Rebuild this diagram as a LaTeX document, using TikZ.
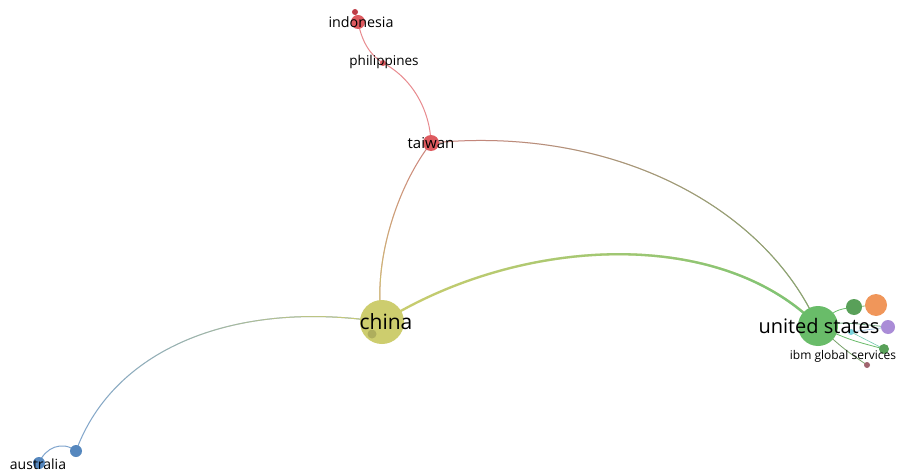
\documentclass[tikz,border=0pt]{standalone}
\usepackage{fontspec}
\setmainfont{Open Sans}
\usetikzlibrary{fadings,backgrounds}
\definecolor{cred}{RGB}{222,90,95}
\definecolor{cdred}{RGB}{190,60,70}
\definecolor{cyel}{RGB}{205,205,110}
\definecolor{cgreen}{RGB}{105,188,105}
\definecolor{corange}{RGB}{240,150,90}
\definecolor{cpurple}{RGB}{170,140,215}
\definecolor{cblue}{RGB}{85,135,190}
\definecolor{ccyan}{RGB}{120,210,220}
\definecolor{cbrown}{RGB}{160,100,110}
\definecolor{cedgered}{RGB}{205,130,125}
\definecolor{cedgegreen}{RGB}{125,175,115}
\tikzfading[name=fadeR, left color=transparent!100, right color=transparent!0]
\tikzfading[name=fadeS, top color=transparent!100, bottom color=transparent!0]
\tikzset{
  item/.style={circle, inner sep=0pt, draw=none},
  lbl/.style={inner sep=0pt, text=black},
  edge/.style={line width=1pt, line cap=round},
}
\begin{document}
\begin{tikzpicture}[x=1pt,y=-1pt]
\useasboundingbox (0,0) rectangle (899,476);
% nodes
\node[item, fill=cdred, minimum size=6pt] (indo2) at (355,12) {};
\node[item, fill=cred, minimum size=14pt] (indo) at (358,22) {};
\node[item, fill=cred, minimum size=6pt] (phil) at (383,63) {};
\node[item, fill=cred, minimum size=16pt] (taiwan) at (431,143) {};
\node[item, fill=cyel, minimum size=44pt] (china) at (382,322) {};
\node[item, fill=cyel!85!black, minimum size=9pt] (china2) at (372,334) {};
\node[item, fill=cgreen, minimum size=40pt] (us) at (818,326) {};
\node[item, fill=cgreen!85!black, minimum size=16pt] (g1) at (854,307) {};
\node[item, fill=corange, minimum size=22pt] (orange) at (876,305) {};
\node[item, fill=cpurple, minimum size=14pt] (purple) at (888,327) {};
\node[item, fill=ccyan, minimum size=6pt] (cyan) at (851,332) {};
\node[item, fill=cgreen!85!black, minimum size=10pt] (g2) at (884,349) {};
\node[item, fill=cbrown, minimum size=6pt] (brown) at (867,365) {};
\node[item, fill=cblue, minimum size=12pt] (aus) at (39,463) {};
\node[item, fill=cblue, minimum size=12pt] (aus2) at (76,451) {};
% edges
\begin{scope}[on background layer]
\fill[white] (0,0) rectangle (899,476);
\draw[edge, cred!70!white] (indo2.center) -- (indo.center);
\draw[edge, cred!70!white] (indo.center) .. controls (362,42) and (370,55) .. (phil.center);
\draw[edge, cred!70!white] (phil.center) .. controls (412,78) and (430,110) .. (taiwan.center);
\draw[edge, cedgered] (taiwan.center) .. controls (398,185) and (372,262) .. (china.center);
\draw[edge, cyel, path fading=fadeS] (taiwan.center) .. controls (398,185) and (372,262) .. (china.center);
\draw[edge, cedgered] (taiwan.center) .. controls (610,125) and (765,205) .. (us.center);
\draw[edge, cedgegreen, path fading=fadeR] (taiwan.center) .. controls (610,125) and (765,205) .. (us.center);
\draw[line width=2.3pt, cyel] (china.center) .. controls (520,236) and (720,226) .. (us.center);
\draw[line width=2.3pt, cgreen!90!white, path fading=fadeR] (china.center) .. controls (520,236) and (720,226) .. (us.center);
\draw[edge, cblue!75!white] (china.center) .. controls (240,300) and (115,345) .. (aus2.center);
\draw[edge, cyel, path fading=fadeR] (china.center) .. controls (240,300) and (115,345) .. (aus2.center);
\draw[edge, cblue!75!white] (aus2.center) .. controls (62,440) and (45,448) .. (aus.center);
\draw[edge, cyel!80!black] (china.center) -- (china2.center);
\draw[line width=0.8pt, cgreen] (us.center) .. controls (835,310) .. (g1.center);
\draw[line width=0.8pt, cgreen!80!corange] (g1.center) -- (orange.center);
\draw[line width=0.8pt, cgreen!70!cpurple] (us.center) .. controls (840,322) .. (purple.center);
\draw[line width=0.8pt, cgreen] (us.center) .. controls (850,340) .. (g2.center);
\draw[line width=0.8pt, cgreen!70!cbrown] (us.center) .. controls (845,350) .. (brown.center);
\draw[line width=0.6pt, ccyan!60!cgreen] (cyan.center) -- (g2.center);
\draw[line width=0.6pt, ccyan!60!cpurple] (cyan.center) -- (purple.center);
\end{scope}
% labels
\node[lbl, font=\fontsize{14.3}{16}\selectfont] (tindo) at (361,22) {indonesia};
\node[lbl, font=\fontsize{13.5}{15}\selectfont] (tphil) at (384,62) {philippines};
\node[lbl, font=\fontsize{15}{17}\selectfont] (ttai) at (431,143) {taiwan};
\node[lbl, font=\fontsize{21}{24}\selectfont] (tchina) at (386,322) {china};
\node[lbl, font=\fontsize{20}{23}\selectfont] (tus) at (819,326) {united states};
\node[lbl, font=\fontsize{12}{14}\selectfont] (tibm) at (843,356) {ibm global services};
\node[lbl, font=\fontsize{14}{16}\selectfont] (taus) at (38,464) {australia};
\end{tikzpicture}
\end{document}
